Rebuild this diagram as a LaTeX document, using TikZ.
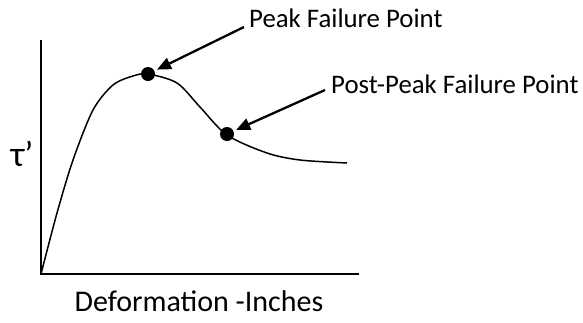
\documentclass[tikz,border=0pt]{standalone}
\usepackage{fontspec}
\setmainfont{Carlito}
\usetikzlibrary{arrows.meta}
\begin{document}
\begin{tikzpicture}[x=1pt,y=-1pt,
  axis/.style={line width=2pt},
  curve/.style={line width=1.5pt},
  dot/.style={circle,fill=black,inner sep=0pt,minimum size=14pt,outer sep=3pt},
  pointer/.style={line width=2.3pt,-{Triangle[length=14pt,width=12pt]}},
  lbl/.style={font=\fontsize{26.8}{30}\selectfont,inner sep=0pt}]
\useasboundingbox (0,0) rectangle (583,322);
% axes
\coordinate (O) at (41,274);
\coordinate (ytop) at (41,40);
\coordinate (xend) at (359,274);
\draw[axis] (ytop) -- (O) -- (xend);
% stress-deformation curve
\draw[curve] plot[smooth,tension=0.5] coordinates {
  (41,274) (57,213) (73,160) (93,110) (113,85) (133,76) (148,74)
  (177,83) (200,107) (227,135) (267,153) (300,160) (347,163)};
% failure points
\node[dot] (peak) at (148,74) {};
\node[dot] (post) at (227,134) {};
% labels
\node[lbl,anchor=west] (lpeak) at (249,18) {Peak Failure Point};
\node[lbl,anchor=west] (lpost) at (331,84) {Post-Peak Failure Point};
\node[font=\fontsize{36}{40}\selectfont,inner sep=0pt] (tau) at (22,154) {τ’};
\node[font=\fontsize{30}{34}\selectfont,inner sep=0pt] (xlab) at (199,301) {Deformation -Inches};
% pointers
\coordinate (p1) at (244,27);
\coordinate (p2) at (325,90);
\draw[pointer] (p1) -- (peak);
\draw[pointer] (p2) -- (post);
\end{tikzpicture}
\end{document}
